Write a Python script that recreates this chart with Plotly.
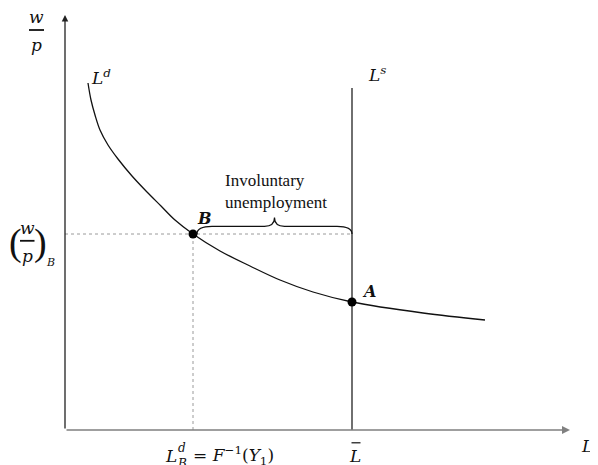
import plotly.graph_objects as go

# ---- data (L, w/p) ----
ld_L = [4.6, 5.2, 6.0, 7.0, 8.6, 10.6, 13.4, 16.4, 19.2, 22.0, 25.6, 31.0, 37.0, 43.0, 49.6, 57.4, 71.6, 84.0]
ld_w = [86.75, 82.5, 78.75, 75.0, 71.25, 67.75, 63.5, 59.5, 56.0, 52.5, 49.0, 44.75, 41.0, 37.5, 34.5, 32.0, 29.25, 27.5]
ls_L = 57.4          # labour supply (L bar)
ls_top = 85.5
B_L, B_w = 25.6, 49.0
A_L, A_w = 57.4, 32.0
x_axis_end = 101.0
y_axis_end = 103.75

MATH = "DejaVu Serif"
TXT = "Liberation Serif"

fig = go.Figure()

# dotted guide lines
fig.add_trace(go.Scatter(x=[0, ls_L], y=[B_w, B_w], mode="lines",
                         line=dict(color="#9a9a9a", width=1, dash="dot"),
                         hoverinfo="skip", showlegend=False))
fig.add_trace(go.Scatter(x=[B_L, B_L], y=[0, B_w], mode="lines",
                         line=dict(color="#9a9a9a", width=1, dash="dot"),
                         hoverinfo="skip", showlegend=False))
# Ls vertical
fig.add_trace(go.Scatter(x=[ls_L, ls_L], y=[0, ls_top], mode="lines",
                         line=dict(color="#222", width=1.3),
                         hoverinfo="skip", showlegend=False))
# Ld curve
fig.add_trace(go.Scatter(x=ld_L, y=ld_w, mode="lines",
                         line=dict(color="#111", width=1.3, shape="spline", smoothing=1.0),
                         hoverinfo="skip", showlegend=False))
# points
fig.add_trace(go.Scatter(x=[B_L, A_L], y=[B_w, A_w], mode="markers",
                         marker=dict(color="#000", size=9),
                         hoverinfo="skip", showlegend=False))

# brace between B and A along the B wage level
x0, x1, y = B_L + 0.8, ls_L, B_w
xm = (x0 + x1) / 2
h1, h2 = 1.9, 4.1
path = (f"M {x0},{y} Q {x0},{y+h1} {x0+3},{y+h1} L {xm-2},{y+h1} "
        f"Q {xm},{y+h1} {xm},{y+h2} Q {xm},{y+h1} {xm+2},{y+h1} "
        f"L {x1-3},{y+h1} Q {x1},{y+h1} {x1},{y}")
fig.add_shape(type="path", path=path, xref="x", yref="y",
              line=dict(color="#111", width=1.2))

# axes with arrows
fig.add_annotation(x=x_axis_end, y=0, ax=0, ay=0, xref="x", yref="y",
                   axref="x", ayref="y", showarrow=True, arrowhead=2,
                   arrowsize=1, arrowwidth=1.6, arrowcolor="#808080", text="")
fig.add_annotation(x=0, y=y_axis_end, ax=0, ay=0, xref="x", yref="y",
                   axref="x", ayref="y", showarrow=True, arrowhead=2,
                   arrowsize=1, arrowwidth=1.3, arrowcolor="#222", text="")

def lab(x, y, t, size=17, fam=MATH, xa="center"):
    fig.add_annotation(x=x, y=y, xref="x", yref="y", text=t, showarrow=False,
                       font=dict(family=fam, size=size, color="#111"),
                       xanchor=xa, yanchor="middle")

# w/p axis label
lab(-5.8, 103.2, "<i>w</i>")
fig.add_shape(type="line", x0=-7.2, x1=-4.2, y0=100, y1=100,
              line=dict(color="#111", width=1.8))
lab(-5.8, 96.2, "<i>p</i>")

# (w/p)_B
lab(-9.9, 46.8, "(", size=38, fam=TXT)
lab(-5.0, 46.8, ")", size=38, fam=TXT)
lab(-7.6, 50.6, "<i>w</i>")
fig.add_shape(type="line", x0=-9.0, x1=-6.1, y0=47.3, y1=47.3,
              line=dict(color="#111", width=1.8))
lab(-7.6, 43.6, "<i>p</i>")
lab(-3.0, 42.0, "<i>B</i>", size=11)

# curve labels
lab(7.2, 88.3, "<i>L</i><sup><i>d</i></sup>")
lab(62.4, 89.0, "<i>L</i><sup><i>s</i></sup>")
lab(27.8, 52.8, "<b><i>B</i></b>", size=16)
lab(60.7, 34.6, "<b><i>A</i></b>", size=16)

# involuntary unemployment
lab(31.6, 62.5, "Involuntary", size=17, fam=TXT, xa="left")
lab(31.6, 56.8, "unemployment", size=17, fam=TXT, xa="left")

# bottom labels
lab(21.2, -6.4, "<i>L</i>")
lab(23.3, -4.4, "<i>d</i>", size=12)
lab(23.3, -8.4, "<i>B</i>", size=12)
lab(25.2, -6.4, "= <i>F</i><sup>−1</sup>(<i>Y</i><sub>1</sub>)", xa="left")
lab(58.0, -6.4, "<i>L</i>")
fig.add_shape(type="line", x0=57.3, x1=59.1, y0=-3.2, y1=-3.2,
              line=dict(color="#111", width=1.2))
lab(105.9, -4.0, "<i>L</i>", xa="right")

# page body has an 8px margin, so the figure is 8px smaller and ranges are shifted
fig.update_layout(
    width=590, height=457,
    margin=dict(l=0, r=0, t=0, b=0),
    paper_bgcolor="white", plot_bgcolor="white",
    xaxis=dict(range=[-11.4, 106.6], visible=False, fixedrange=True),
    yaxis=dict(range=[-8.75, 105.5], visible=False, fixedrange=True),
    showlegend=False,
)
fig.write_html("out.html")
